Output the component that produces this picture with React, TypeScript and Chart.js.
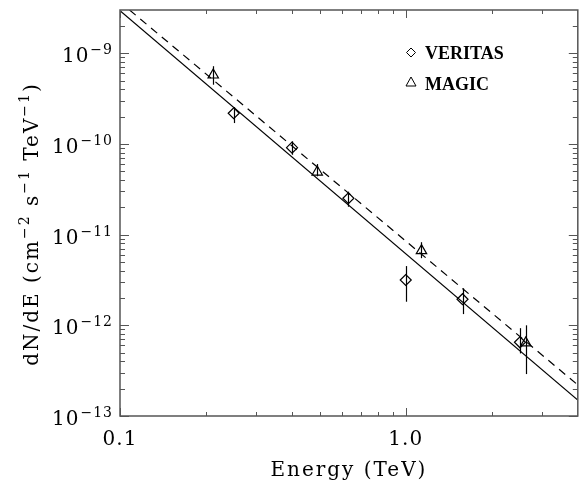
import React, { useEffect, useRef } from "react";
import { Chart, registerables } from "chart.js";

Chart.register(...registerables);

// ---- data ----
const veritasE = [0.25, 0.4, 0.63, 1.0, 1.58, 2.51];
const veritasF = [2.18e-10, 9.1e-11, 2.52e-11, 3.16e-12, 1.94e-12, 6.5e-13];
const veritasLo = [1.7e-10, 7.6e-11, 2.03e-11, 1.82e-12, 1.33e-12, 4.9e-13];
const veritasHi = [2.55e-10, 1.07e-10, 2.98e-11, 4.5e-12, 2.56e-12, 9.3e-13];

const magicE = [0.212, 0.49, 1.135, 2.63];
const magicF = [5.76e-10, 4.9e-11, 6.66e-12, 6.4e-13];
const magicLo = [4.5e-10, 4.4e-11, 5.5e-12, 2.9e-13];
const magicHi = [7.2e-10, 6.0e-11, 8.25e-12, 1.0e-12];

const solidE = [0.1, 4.0];
const solidF = [2.95e-9, 1.5e-13];
const dashedE = [0.108, 4.0];
const dashedF = [3.0e-9, 2.2e-13];

const xMajor = [0.1, 1.0];
const xMajorLabels = ["0.1", "1.0"];
const xMinor = [0.2, 0.3, 0.4, 0.5, 0.6, 0.7, 0.8, 0.9, 2, 3];
const yExponents = [-9, -10, -11, -12, -13];

const X_MIN = 0.1;
const X_MAX = 4.0;
const Y_MIN = 1e-13;
const Y_MAX = 3e-9;

const SERIF = '"DejaVu Serif", serif';

const decorPlugin = {
  id: "decor",
  beforeDatasetsDraw(chart: any) {
    const ctx = chart.ctx;
    const xs = chart.scales.x;
    const ys = chart.scales.y;
    ctx.save();
    ctx.strokeStyle = "#000";
    ctx.lineWidth = 1.2;
    const bars = (E: number[], lo: number[], hi: number[]) => {
      for (let i = 0; i < E.length; i++) {
        const px = Math.round(xs.getPixelForValue(E[i])) + 0.5;
        ctx.beginPath();
        ctx.moveTo(px, ys.getPixelForValue(hi[i]));
        ctx.lineTo(px, ys.getPixelForValue(lo[i]));
        ctx.stroke();
      }
    };
    bars(veritasE, veritasLo, veritasHi);
    bars(magicE, magicLo, magicHi);
    ctx.restore();
  },
  afterDraw(chart: any) {
    const ctx = chart.ctx;
    const a = chart.chartArea;
    const xs = chart.scales.x;
    const ys = chart.scales.y;
    ctx.save();
    // frame
    ctx.strokeStyle = "#555";
    ctx.lineWidth = 1.5;
    ctx.strokeRect(a.left, a.top, a.right - a.left, a.bottom - a.top);
    // x ticks (bottom and top, inward)
    ctx.lineWidth = 1;
    const xt = (v: number, len: number) => {
      const px = Math.round(xs.getPixelForValue(v)) + 0.5;
      ctx.beginPath();
      ctx.moveTo(px, a.bottom);
      ctx.lineTo(px, a.bottom - len);
      ctx.moveTo(px, a.top);
      ctx.lineTo(px, a.top + len);
      ctx.stroke();
    };
    xMajor.forEach((v) => xt(v, 8));
    xMinor.forEach((v) => xt(v, 4));
    // y ticks (left and right, inward)
    const yt = (v: number, len: number) => {
      const py = Math.round(ys.getPixelForValue(v)) + 0.5;
      ctx.beginPath();
      ctx.moveTo(a.left, py);
      ctx.lineTo(a.left + len, py);
      ctx.moveTo(a.right, py);
      ctx.lineTo(a.right - len, py);
      ctx.stroke();
    };
    yExponents.forEach((e) => {
      const base = Math.pow(10, e);
      yt(base, 9);
      for (let m = 2; m <= 9; m++) {
        const v = base * m;
        if (v <= Y_MAX) yt(v, 5);
      }
    });

    // tick labels
    ctx.fillStyle = "#000";
    (ctx as any).letterSpacing = "1px";
    ctx.font = `20px ${SERIF}`;
    ctx.textAlign = "center";
    ctx.textBaseline = "alphabetic";
    xMajor.forEach((v, i) => {
      ctx.fillText(xMajorLabels[i], xs.getPixelForValue(v), 445);
    });
    yExponents.forEach((e) => {
      const py = ys.getPixelForValue(Math.pow(10, e));
      const expStr = "\u2212" + String(-e);
      ctx.textAlign = "right";
      ctx.font = `14px ${SERIF}`;
      const ew = ctx.measureText(expStr).width;
      ctx.fillText(expStr, 113, py + 1);
      ctx.font = `20px ${SERIF}`;
      ctx.fillText("10", 113 - ew - 1, py + 9);
    });

    // x title
    (ctx as any).letterSpacing = "2px";
    ctx.font = `20px ${SERIF}`;
    ctx.textAlign = "center";
    ctx.fillText("Energy (TeV)", (a.left + a.right) / 2, 476);

    // y title with superscripts
    const parts: [string, boolean][] = [
      ["dN/dE (cm", false],
      ["\u22122", true],
      [" s", false],
      ["\u22121", true],
      [" TeV", false],
      ["\u22121", true],
      [")", false],
    ];
    let total = 0;
    const widths: number[] = [];
    parts.forEach(([t, sup]) => {
      ctx.font = sup ? `14px ${SERIF}` : `20px ${SERIF}`;
      const w = ctx.measureText(t).width;
      widths.push(w);
      total += w;
    });
    ctx.translate(38, 224);
    ctx.rotate(-Math.PI / 2);
    ctx.textAlign = "left";
    let cx = -total / 2;
    parts.forEach(([t, sup], i) => {
      ctx.font = sup ? `14px ${SERIF}` : `20px ${SERIF}`;
      ctx.fillText(t, cx, sup ? -9 : 0);
      cx += widths[i];
    });
    ctx.setTransform(1, 0, 0, 1, 0, 0);

    // legend
    (ctx as any).letterSpacing = "0px";
    ctx.strokeStyle = "#000";
    ctx.lineWidth = 1;
    const lx = 411;
    ctx.beginPath();
    ctx.moveTo(lx - 4.5, 52.5);
    ctx.lineTo(lx, 48);
    ctx.lineTo(lx + 4.5, 52.5);
    ctx.lineTo(lx, 57);
    ctx.closePath();
    ctx.stroke();
    ctx.beginPath();
    ctx.moveTo(lx, 77);
    ctx.lineTo(lx + 5, 86);
    ctx.lineTo(lx - 5, 86);
    ctx.closePath();
    ctx.stroke();
    ctx.font = `bold 18px "Liberation Serif", serif`;
    ctx.textAlign = "left";
    ctx.fillText("VERITAS", 425, 59);
    ctx.fillText("MAGIC", 425, 90);
    ctx.restore();
  },
};

export default function App() {
  const ref = useRef<HTMLCanvasElement | null>(null);
  useEffect(() => {
    if (!ref.current) return;
    const pts = (E: number[], F: number[]) => E.map((e, i) => ({ x: e, y: F[i] }));
    const chart = new Chart(ref.current, {
      type: "scatter",
      data: {
        datasets: [
          {
            label: "VERITAS",
            data: pts(veritasE, veritasF),
            pointStyle: "rectRot",
            pointRadius: 5.5,
            borderColor: "#000",
            backgroundColor: "rgba(0,0,0,0)",
            borderWidth: 1.2,
            showLine: false,
          },
          {
            label: "MAGIC",
            data: pts(magicE, magicF),
            pointStyle: "triangle",
            pointRadius: 6,
            borderColor: "#000",
            backgroundColor: "rgba(0,0,0,0)",
            borderWidth: 1.2,
            showLine: false,
          },
          {
            label: "fit",
            data: pts(solidE, solidF),
            showLine: true,
            pointRadius: 0,
            borderColor: "#000",
            borderWidth: 1.2,
          },
          {
            label: "fit2",
            data: pts(dashedE, dashedF),
            showLine: true,
            pointRadius: 0,
            borderColor: "#000",
            borderWidth: 1.2,
            borderDash: [8, 6],
          },
        ],
      },
      options: {
        responsive: false,
        animation: false,
        events: [],
        layout: { padding: { left: 120, top: 10, right: 1, bottom: 71 } },
        plugins: { legend: { display: false }, tooltip: { enabled: false } },
        scales: {
          x: { type: "logarithmic", min: X_MIN, max: X_MAX, display: false },
          y: { type: "logarithmic", min: Y_MIN, max: Y_MAX, display: false },
        },
      },
      plugins: [decorPlugin],
    });
    return () => chart.destroy();
  }, []);
  return (
    <canvas
      ref={ref}
      width={585}
      height={487}
      style={{ position: "absolute", left: 0, top: 0, width: 585, height: 487, background: "#fff" }}
    />
  );
}
